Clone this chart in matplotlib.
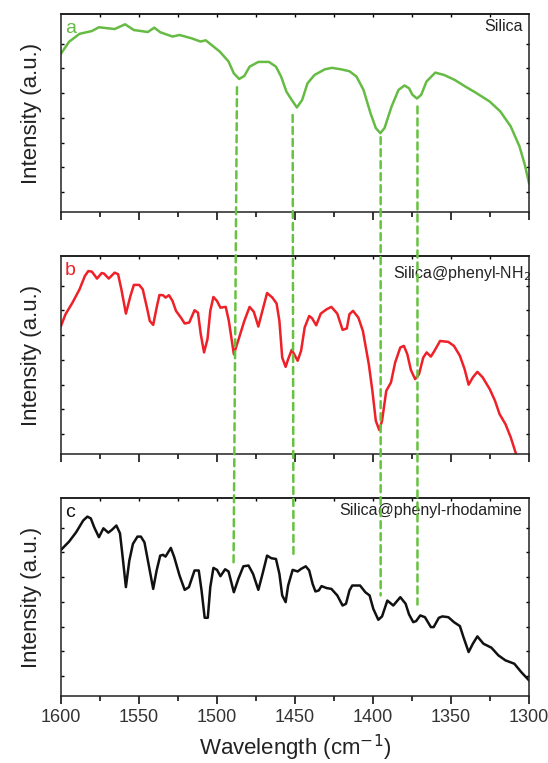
import numpy as np
import matplotlib
matplotlib.use("Agg")
import matplotlib.pyplot as plt
from matplotlib.patches import ConnectionPatch

plt.rcParams['font.family'] = ['Liberation Sans', 'DejaVu Sans']

# spectrum a: Silica
wn_a = [1600, 1594.8, 1588.1, 1580.2, 1575.7, 1565.6, 1558.9, 1553.3, 1544.3, 1540.2,
        1536.4, 1528.5, 1524.0, 1516.2, 1510.6, 1507.2, 1498.2, 1492.6, 1489.2, 1485.8,
        1482.5, 1479.1, 1473.5, 1466.7, 1462.2, 1458.9, 1455.5, 1452.1, 1448.8, 1445.4,
        1442.0, 1437.5, 1430.8, 1426.3, 1420.7, 1415.1, 1410.6, 1406.1, 1401.6, 1398.2,
        1395.3, 1392.6, 1388.1, 1383.6, 1379.8, 1376.9, 1374.7, 1371.8, 1369.1, 1365.7,
        1360.1, 1354.4, 1347.6, 1340.9, 1334.2, 1325.2, 1318.4, 1311.7, 1306.1, 1302.7, 1300]
int_a = [0.80, 0.86, 0.90, 0.914, 0.933, 0.924, 0.948, 0.919, 0.909, 0.931,
         0.908, 0.886, 0.894, 0.877, 0.861, 0.867, 0.81, 0.76, 0.70, 0.672,
         0.687, 0.734, 0.758, 0.758, 0.734, 0.684, 0.608, 0.566, 0.528, 0.566,
         0.65, 0.692, 0.721, 0.728, 0.721, 0.711, 0.684, 0.617, 0.499, 0.424,
         0.398, 0.424, 0.533, 0.617, 0.639, 0.625, 0.592, 0.573, 0.592, 0.659,
         0.704, 0.692, 0.667, 0.634, 0.603, 0.558, 0.508, 0.432, 0.331, 0.239, 0.146]

# spectrum b: Silica@phenyl-NH2
wn_b = [1600, 1597.1, 1592.6, 1588.1, 1584.7, 1582.5, 1580.2, 1576.9, 1573.9, 1572.4,
        1569.4, 1565.6, 1563.4, 1561.1, 1558.4, 1555.5, 1553.3, 1549.9, 1547.6, 1544.9,
        1543.1, 1540.9, 1538.7, 1536.9, 1534.6, 1533.0, 1530.8, 1528.5, 1526.3, 1522.9,
        1520.7, 1517.8, 1514.4, 1512.2, 1510.4, 1508.3, 1506.1, 1504.3, 1502.3, 1500.0,
        1497.8, 1494.4, 1492.4, 1489.2, 1485.8, 1482.5, 1479.1, 1476.4, 1473.5, 1471.2,
        1467.9, 1464.5, 1461.8, 1460.0, 1458.2, 1456.0, 1454.4, 1452.1, 1450.3, 1448.3,
        1446.1, 1443.8, 1440.9, 1439.1, 1436.4, 1433.5, 1429.7, 1426.7, 1422.9, 1419.5,
        1416.8, 1415.1, 1412.8, 1409.4, 1406.5, 1402.7, 1400.4, 1398.2, 1396.0, 1394.2,
        1391.5, 1388.5, 1385.8, 1382.5, 1380.2, 1378.0, 1375.7, 1373.0, 1370.5, 1367.8,
        1365.6, 1362.9, 1360.6, 1357.0, 1351.7, 1348.1, 1344.3, 1341.3, 1338.7, 1336.0,
        1333.1, 1329.7, 1325.2, 1321.8, 1318.9, 1315.1, 1311.7, 1308.3]
int_b = [0.647, 0.706, 0.765, 0.832, 0.899, 0.924, 0.921, 0.886, 0.914, 0.911,
         0.886, 0.916, 0.908, 0.824, 0.709, 0.798, 0.854, 0.854, 0.832, 0.739,
         0.672, 0.652, 0.739, 0.803, 0.802, 0.790, 0.802, 0.773, 0.723, 0.686,
         0.659, 0.664, 0.726, 0.714, 0.605, 0.513, 0.580, 0.723, 0.793, 0.773,
         0.739, 0.743, 0.672, 0.504, 0.588, 0.672, 0.743, 0.718, 0.644, 0.714,
         0.813, 0.790, 0.760, 0.672, 0.487, 0.440, 0.479, 0.526, 0.501, 0.471,
         0.521, 0.639, 0.697, 0.686, 0.650, 0.709, 0.731, 0.743, 0.709, 0.627,
         0.634, 0.706, 0.723, 0.689, 0.622, 0.454, 0.319, 0.168, 0.121, 0.168,
         0.319, 0.361, 0.462, 0.538, 0.546, 0.504, 0.424, 0.378, 0.403, 0.487,
         0.513, 0.492, 0.521, 0.571, 0.566, 0.546, 0.496, 0.429, 0.350, 0.387,
         0.415, 0.387, 0.328, 0.269, 0.202, 0.151, 0.084, 0.0]

# spectrum c: Silica@phenyl-rhodamine
wn_c = [1600, 1594.8, 1590.3, 1585.8, 1583.1, 1580.9, 1578.7, 1575.7, 1572.8, 1569.7,
        1567.4, 1564.5, 1562.2, 1560.7, 1558.4, 1556.2, 1553.9, 1551.0, 1548.8, 1546.5,
        1544.3, 1540.9, 1538.7, 1536.4, 1534.6, 1533.0, 1529.6, 1527.4, 1524.0, 1520.7,
        1518.0, 1514.4, 1511.7, 1509.9, 1507.9, 1505.9, 1504.3, 1502.3, 1500.0, 1497.8,
        1494.8, 1492.6, 1489.2, 1486.3, 1483.1, 1479.8, 1476.9, 1473.5, 1470.8, 1467.9,
        1465.2, 1462.2, 1460.0, 1458.2, 1456.0, 1454.4, 1451.5, 1448.3, 1446.1, 1443.1,
        1440.9, 1438.7, 1436.9, 1434.8, 1433.0, 1429.7, 1426.7, 1422.9, 1419.5, 1417.3,
        1415.1, 1413.3, 1408.3, 1404.9, 1402.2, 1399.8, 1396.6, 1394.2, 1390.8, 1387.0,
        1382.5, 1379.1, 1376.9, 1374.2, 1372.4, 1369.7, 1366.7, 1362.9, 1361.1, 1357.8,
        1355.5, 1351.7, 1348.1, 1344.3, 1342.0, 1338.7, 1336.0, 1333.1, 1329.2, 1324.1,
        1319.6, 1315.1, 1309.4, 1305.0, 1300]
int_c = [0.738, 0.780, 0.827, 0.886, 0.906, 0.897, 0.852, 0.802, 0.847, 0.825,
         0.839, 0.861, 0.822, 0.718, 0.550, 0.684, 0.768, 0.805, 0.805, 0.776,
         0.684, 0.541, 0.634, 0.709, 0.713, 0.704, 0.748, 0.701, 0.608, 0.536,
         0.550, 0.634, 0.634, 0.533, 0.395, 0.395, 0.550, 0.647, 0.637, 0.605,
         0.640, 0.629, 0.524, 0.592, 0.655, 0.659, 0.617, 0.536, 0.617, 0.709,
         0.696, 0.692, 0.617, 0.508, 0.474, 0.558, 0.637, 0.629, 0.642, 0.655,
         0.634, 0.566, 0.528, 0.533, 0.555, 0.545, 0.541, 0.508, 0.457, 0.466,
         0.533, 0.558, 0.558, 0.524, 0.508, 0.440, 0.385, 0.402, 0.482, 0.457,
         0.499, 0.466, 0.412, 0.373, 0.378, 0.407, 0.398, 0.348, 0.348, 0.395,
         0.402, 0.398, 0.373, 0.353, 0.297, 0.222, 0.264, 0.301, 0.264, 0.244,
         0.205, 0.180, 0.163, 0.121, 0.079]

# guide lines: wavenumber and intensity where they start (panel a) and end (panel c)
guide_wn_top = [1487.2, 1451.5, 1395.1, 1371.5]
guide_int_top = [0.63, 0.49, 0.378, 0.533]
guide_wn_bot = [1489.4, 1451.0, 1395.1, 1371.5]
guide_int_bot = [0.654, 0.718, 0.508, 0.462]

letters = ['a', 'b', 'c']
names = ['Silica', 'Silica@phenyl-NH$_2$', 'Silica@phenyl-rhodamine']
colors = ['#66bb44', '#ee2028', '#111111']
green_dash = '#66c23f'

fig = plt.figure(figsize=(5.48, 7.63), dpi=100)
L, R = 61 / 548, 529 / 548
tops = [14, 256, 498]
h = 198
axes = []
for t in tops:
    axes.append(fig.add_axes([L, 1 - (t + h) / 763, R - L, h / 763]))

series = [(wn_a, int_a), (wn_b, int_b), (wn_c, int_c)]
for i, ax in enumerate(axes):
    wn, it = series[i]
    ax.plot(wn, it, color=colors[i], lw=1.8, solid_joinstyle='round')
    ax.set_xlim(1600, 1300)
    ax.set_ylim(0, 1)
    ax.set_xticks(np.arange(1300, 1601, 50))
    ax.set_xticks(np.arange(1325, 1600, 50), minor=True)
    ax.set_yticks(np.arange(0.1, 0.9, 0.125))
    ax.tick_params(axis='x', which='major', direction='out', length=5.5, width=1.1,
                   labelsize=13, pad=4, labelcolor='#333333')
    ax.tick_params(axis='x', which='minor', direction='out', length=3.5, width=1.1)
    ax.tick_params(axis='y', direction='in', length=2.5, width=1.0, left=True, right=True,
                   labelleft=False)
    if i < 2:
        ax.tick_params(axis='x', labelbottom=False)
    for sp in ax.spines.values():
        sp.set_linewidth(1.1)
        sp.set_color('#222222')
    top = ax.secondary_xaxis('top')
    top.set_xticks(np.arange(1325, 1600, 25))
    top.tick_params(direction='in', length=1.8, width=1.0, labeltop=False)
    top.spines['top'].set_linewidth(1.1)
    ax.set_ylabel('Intensity (a.u.)', fontsize=16, labelpad=14, color='#222222')
    ax.text(0.008, 0.925, letters[i], transform=ax.transAxes, fontsize=14,
            color=colors[i], ha='left', va='center')
    ax.text(0.986 if i != 1 else 1.005, 0.935 if i != 1 else 0.91, names[i],
            transform=ax.transAxes, fontsize=11.5, color='#222222', ha='right', va='center')

axes[2].set_xlabel('Wavelength (cm$^{-1}$)', fontsize=16, labelpad=5, color='#222222')

for k in range(len(guide_wn_top)):
    con = ConnectionPatch(xyA=(guide_wn_top[k], guide_int_top[k]), coordsA=axes[0].transData,
                          xyB=(guide_wn_bot[k], guide_int_bot[k]), coordsB=axes[2].transData,
                          color=green_dash, lw=1.8, linestyle=(0, (2.8, 2.0)), zorder=5)
    fig.add_artist(con)

fig.savefig('out.png', dpi=100)
